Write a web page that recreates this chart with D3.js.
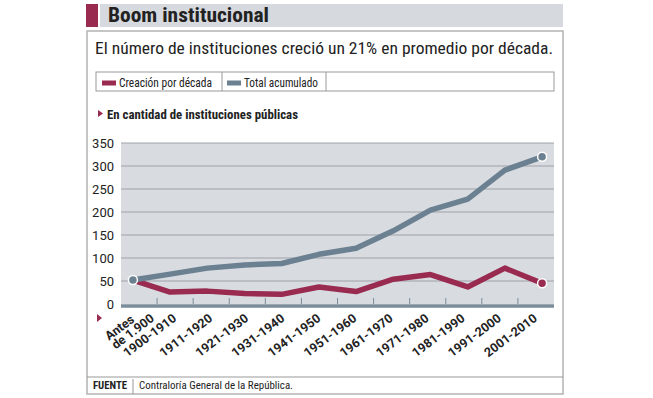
<!DOCTYPE html>
<html>
<head>
<meta charset="utf-8">
<script src="https://cdn.jsdelivr.net/npm/d3@7"></script>
<style>
  body { margin: 0; background: #fff; }
  svg { display: block; }
  text { font-family: "Roboto Condensed", "Liberation Sans Narrow", Roboto, sans-serif; fill: #222; }
  .xlab { font-family: Roboto, "Noto Sans", sans-serif; }
</style>
</head>
<body>
<div id="chart"></div>
<script>
// data
const categories = ["Antes de 1.900", "1900-1910", "1911-1920", "1921-1930", "1931-1940",
  "1941-1950", "1951-1960", "1961-1970", "1971-1980", "1981-1990", "1991-2000", "2001-2010"];
const creacion = [52, 26, 28, 23, 21, 37, 27, 54, 64, 37, 78, 45];
const total = [52, 65, 78, 85, 88, 108, 121, 159, 204, 228, 291, 320];
const yTicks = [0, 50, 100, 150, 200, 250, 300, 350];
const legendItems = ["Creación por década", "Total acumulado"];

const W = 653, H = 398;
const red = "#9a2b50", blue = "#6b8192";

const svg = d3.select("#chart").append("svg")
  .attr("width", W).attr("height", H);

// title bar
svg.append("rect").attr("x", 86).attr("y", 4).attr("width", 12).attr("height", 23).attr("fill", red);
svg.append("rect").attr("x", 100).attr("y", 4).attr("width", 463).attr("height", 23).attr("fill", "#d6d9dd");
svg.append("text").attr("x", 108).attr("y", 22)
  .attr("font-size", 20).attr("font-weight", "bold")
  .attr("textLength", 161).attr("lengthAdjust", "spacingAndGlyphs")
  .text("Boom institucional");

// frame
svg.append("rect").attr("x", 87).attr("y", 31).attr("width", 476).attr("height", 363)
  .attr("fill", "none").attr("stroke", "#b3b3b3").attr("stroke-width", 1.5);

svg.append("text").attr("x", 95).attr("y", 54)
  .attr("font-size", 16).attr("fill", "#333")
  .attr("textLength", 458).attr("lengthAdjust", "spacingAndGlyphs")
  .text("El número de instituciones creció un 21% en promedio por década.");

// legend
const lg = svg.append("g");
lg.append("rect").attr("x", 96).attr("y", 72).attr("width", 458).attr("height", 19)
  .attr("fill", "none").attr("stroke", "#999").attr("stroke-width", 1);
[222, 326].forEach(x => lg.append("line").attr("x1", x).attr("x2", x)
  .attr("y1", 72).attr("y2", 91).attr("stroke", "#999"));
const legendX = [102, 227];
const legendW = [93, 74];
legendItems.forEach((t, i) => {
  lg.append("rect").attr("x", legendX[i]).attr("y", 80.5).attr("width", 14).attr("height", 5)
    .attr("fill", i === 0 ? red : blue);
  lg.append("text").attr("x", legendX[i] + 17).attr("y", 86.5)
    .attr("font-size", 12).attr("fill", "#333")
    .attr("textLength", legendW[i]).attr("lengthAdjust", "spacingAndGlyphs")
    .text(t);
});

// section header
svg.append("path").attr("d", "M98,110 L103,113.5 L98,117 Z").attr("fill", red);
svg.append("text").attr("x", 107).attr("y", 119)
  .attr("font-size", 13).attr("font-weight", "bold")
  .attr("textLength", 191).attr("lengthAdjust", "spacingAndGlyphs")
  .text("En cantidad de instituciones públicas");

// scales
const x0 = 121, x1 = 554;
const band = d3.scaleBand().domain(categories).range([x0, x1]);
const xp = d3.scalePoint().domain(categories).range([x0, x1]).padding(0.32);
const y = d3.scaleLinear().domain([0, 350]).range([304, 143]);

svg.append("rect").attr("x", x0).attr("y", y(350)).attr("width", x1 - x0)
  .attr("height", y(0) - y(350)).attr("fill", "#d8dbe0");

// gridlines
svg.append("g").selectAll("line").data(yTicks.filter(d => d > 0)).join("line")
  .attr("x1", x0).attr("x2", x1)
  .attr("y1", d => y(d)).attr("y2", d => y(d))
  .attr("stroke", "#9ea3a9").attr("stroke-width", 1);

// y labels
svg.append("g").selectAll("text").data(yTicks).join("text")
  .attr("class", "xlab")
  .attr("x", 114).attr("y", d => y(d) + 4.5)
  .attr("text-anchor", "end").attr("font-size", 13).attr("fill", "#333")
  .text(d => d);

// lines
const line = (vals) => d3.line()
  .x((d, i) => xp(categories[i]))
  .y(d => y(d))(vals);

svg.append("path").attr("d", line(creacion)).attr("fill", "none")
  .attr("stroke", red).attr("stroke-width", 5.5).attr("stroke-linejoin", "round");
svg.append("path").attr("d", line(total)).attr("fill", "none")
  .attr("stroke", blue).attr("stroke-width", 5.5).attr("stroke-linejoin", "round");

// x axis bar and ticks
svg.append("line").attr("x1", x0).attr("x2", x1).attr("y1", 306).attr("y2", 306)
  .attr("stroke", "#7b8c9a").attr("stroke-width", 3.5);
svg.append("g").selectAll("line").data(categories.slice(1)).join("line")
  .attr("x1", d => band(d)).attr("x2", d => band(d))
  .attr("y1", 304).attr("y2", 298)
  .attr("stroke", "#7b8c9a").attr("stroke-width", 1);

// end point markers
const last = categories.length - 1;
const dots = [
  [categories[0], total[0], blue],
  [categories[last], total[last], blue],
  [categories[last], creacion[last], red]
];
svg.append("g").selectAll("circle").data(dots).join("circle")
  .attr("cx", d => xp(d[0])).attr("cy", d => y(d[1])).attr("r", 4.5)
  .attr("fill", d => d[2]).attr("stroke", "#fff").attr("stroke-width", 1.5);

// x labels
svg.append("path").attr("d", "M97,314 L102,318 L97,322 Z").attr("fill", red);
const angle = -37;
const xl = svg.append("g");
const mid = band.bandwidth() / 2;
categories.forEach((c, i) => {
  const g = xl.append("g")
    .attr("transform", `translate(${band(c) + mid + (i === 0 ? 16 : 2)},320) rotate(${angle})`);
  if (i === 0) {
    const parts = c.split(" de ");
    const t2 = g.append("text").attr("class", "xlab").attr("text-anchor", "end")
      .attr("font-size", 12.5).attr("font-weight", "bold").text("de " + parts[1]);
    const w = t2.node().getComputedTextLength();
    g.append("text").attr("class", "xlab").attr("x", -w).attr("y", -11)
      .attr("font-size", 12.5).attr("font-weight", "bold").text(parts[0]);
  } else {
    g.append("text").attr("class", "xlab").attr("text-anchor", "end")
      .attr("font-size", 12.5).attr("font-weight", "bold").text(c);
  }
});

// footer
svg.append("line").attr("x1", 87).attr("x2", 563).attr("y1", 377).attr("y2", 377)
  .attr("stroke", "#999").attr("stroke-width", 1);
svg.append("line").attr("x1", 133).attr("x2", 133).attr("y1", 379).attr("y2", 394)
  .attr("stroke", "#999").attr("stroke-width", 1);
svg.append("text").attr("x", 93).attr("y", 389)
  .attr("font-size", 11).attr("font-weight", "bold")
  .attr("textLength", 34).attr("lengthAdjust", "spacingAndGlyphs")
  .text("FUENTE");
svg.append("text").attr("x", 139).attr("y", 389)
  .attr("font-size", 11.5).attr("fill", "#333")
  .attr("textLength", 154).attr("lengthAdjust", "spacingAndGlyphs")
  .text("Contraloría General de la República.");
</script>
</body>
</html>
